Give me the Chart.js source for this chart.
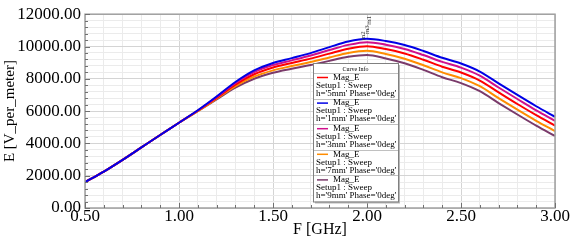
<!DOCTYPE html>
<html><head><meta charset="utf-8">
<script src="https://cdn.jsdelivr.net/npm/chart.js@4.4.1/dist/chart.umd.min.js"></script>
<style>html,body{margin:0;padding:0;background:#fff;}#wrap{width:571px;height:243px;position:relative;}</style>
</head><body><div id="wrap"><canvas id="c" width="571" height="243"></canvas></div>
<script>
const freqGHz = [0.5,0.6,0.7,0.8,0.9,1.0,1.1,1.2,1.3,1.4,1.5,1.6,1.7,1.8,1.9,2.0,2.1,2.2,2.3,2.4,2.5,2.6,2.7,2.8,2.9,3.0];
const h5mm = [1600,2250,2980,3750,4520,5280,6020,6820,7640,8280,8700,8980,9250,9560,9860,10020,9840,9570,9180,8750,8390,7890,7160,6440,5750,5100];
const h1mm = [1600,2250,2980,3750,4520,5280,6050,6900,7800,8520,8980,9280,9590,9960,10310,10480,10340,10090,9720,9300,8950,8450,7720,7000,6300,5650];
const h3mm = [1600,2250,2980,3750,4520,5280,6040,6870,7730,8410,8850,9140,9440,9780,10100,10270,10110,9850,9470,9050,8690,8190,7460,6750,6050,5400];
const h7mm = [1600,2250,2980,3750,4520,5280,6000,6770,7550,8130,8520,8790,9040,9320,9600,9730,9530,9240,8840,8400,8040,7540,6800,6090,5400,4760];
const h9mm = [1600,2250,2980,3750,4520,5280,5990,6720,7450,8000,8370,8620,8850,9110,9360,9480,9260,8960,8550,8100,7730,7230,6500,5790,5100,4460];
const seriesNames = ["h='5mm' Phase='0deg'","h='1mm' Phase='0deg'","h='3mm' Phase='0deg'","h='7mm' Phase='0deg'","h='9mm' Phase='0deg'"];
const seriesColors = ['#ff0000','#0000e6','#d0108c','#ff8c00','#7a3a6a'];
const seriesData = [h5mm,h1mm,h3mm,h7mm,h9mm];
const yTickLabels = ['0.00','2000.00','4000.00','6000.00','8000.00','10000.00','12000.00'];
const xTickLabels = ['0.50','1.00','1.50','2.00','2.50','3.00'];

const SERIF = '"Liberation Serif", "Times New Roman", serif';
const isMajorX = v => Math.abs(v*2 - Math.round(v*2)) < 1e-6;
const isMajorY = v => Math.abs(v/2000 - Math.round(v/2000)) < 1e-6;

const datasets = seriesData.map((d,i)=>({
  label: seriesNames[i],
  data: d.map((v,j)=>({x:freqGHz[j], y:v})),
  borderColor: seriesColors[i],
  backgroundColor: seriesColors[i],
  borderWidth: 2,
  pointRadius: 0,
  cubicInterpolationMode: 'monotone',
  fill: false
}));
datasets.forEach((d,i)=>{ d.order = [2,0,1,3,4][i]; });

const decor = {
  id: 'decor',
  afterDraw(chart){
    const ctx = chart.ctx, a = chart.chartArea;
    const xs = chart.scales.x, ys = chart.scales.y;
    ctx.save();
    ctx.strokeStyle = '#a0a0a0'; ctx.lineWidth = 1.5;
    ctx.strokeRect(a.left, a.top, a.right-a.left, a.bottom-a.top);
    ctx.strokeStyle = '#707070'; ctx.lineWidth = 1;
    xs.ticks.forEach(t=>{
      const px = Math.round(xs.getPixelForValue(t.value))+0.5;
      const L = isMajorX(t.value) ? 5 : 3;
      ctx.beginPath(); ctx.moveTo(px, a.bottom); ctx.lineTo(px, a.bottom-L); ctx.stroke();
    });
    ys.ticks.forEach(t=>{
      const py = Math.round(ys.getPixelForValue(t.value))+0.5;
      const L = isMajorY(t.value) ? 5 : 3;
      ctx.beginPath(); ctx.moveTo(a.left, py); ctx.lineTo(a.left+L, py); ctx.stroke();
    });
    ctx.fillStyle = '#404040'; ctx.font = '7px ' + SERIF;
    const mx = xs.getPixelForValue(2.0);
    [['m1', 10480, 14, 2],['m2', 10020, 6, -4],['m3', 10270, 8, 0]].forEach(m=>{
      ctx.save();
      ctx.translate(mx + m[3], ys.getPixelForValue(m[1]) - m[2]);
      ctx.rotate(-Math.PI/2);
      ctx.textAlign='left'; ctx.textBaseline='middle';
      ctx.fillText(m[0], 0, 0);
      ctx.restore();
    });
    const bx = 313, by = 63, bw = 85, bh = 138.5;
    ctx.fillStyle = '#b8b8b8';
    ctx.fillRect(bx+2, by+2, bw, bh);
    ctx.fillStyle = '#ffffff';
    ctx.fillRect(bx, by, bw, bh);
    ctx.strokeStyle = '#808080'; ctx.lineWidth = 1;
    ctx.strokeRect(bx+0.5, by+0.5, bw, bh);
    ctx.fillStyle = '#000';
    ctx.font = '6px ' + SERIF; ctx.textAlign = 'center'; ctx.textBaseline = 'middle';
    ctx.fillText('Curve Info', bx + bw/2, by + 6);
    const step = 25.6, first = 77.5;
    ctx.strokeStyle = '#c0c0c0';
    for (let i=0;i<5;i++){
      const sy = first + i*step - 4.5;
      ctx.beginPath(); ctx.moveTo(bx+1, Math.round(sy)+0.5); ctx.lineTo(bx+bw, Math.round(sy)+0.5); ctx.stroke();
    }
    chart.data.datasets.forEach((d,i)=>{
      const y0 = first + i*step;
      ctx.strokeStyle = d.borderColor; ctx.lineWidth = 1.5;
      ctx.beginPath(); ctx.moveTo(bx+4, y0); ctx.lineTo(bx+15, y0); ctx.stroke();
      ctx.fillStyle = '#000'; ctx.textAlign = 'left'; ctx.textBaseline = 'middle';
      ctx.font = '9px ' + SERIF;
      ctx.fillText('Mag_E', bx+20, y0);
      ctx.fillText('Setup1 : Sweep', bx+3, y0+8);
      ctx.fillText(d.label, bx+3, y0+16);
    });
    ctx.restore();
  }
};

new Chart(document.getElementById('c'), {
  type: 'line',
  data: { datasets },
  options: {
    responsive: false, animation: false,
    layout: { padding: { top: 8, right: 16, left: 0, bottom: 0 } },
    plugins: { legend: { display: false }, tooltip: { enabled: false } },
    scales: {
      x: {
        type: 'linear', min: 0.5, max: 3.0,
        afterFit: s => { s.height = 35; },
        ticks: {
          stepSize: 0.1, autoSkip: false, maxRotation: 0, padding: -2,
          color: '#000', font: { family: SERIF, size: 17 },
          callback: v => isMajorX(v) ? xTickLabels[Math.round((v-0.5)*2)] : ''
        },
        grid: { drawTicks: false, color: c => isMajorX(c.tick.value) ? '#d4d4d4' : '#ebebeb', lineWidth: 1 },
        border: { display: false },
        title: { display: true, text: 'F [GHz]', color: '#000', font: { family: SERIF, size: 16 }, padding: { top: 0, bottom: 4 } }
      },
      y: {
        type: 'linear', min: 0, max: 12000,
        afterFit: s => { s.width = 85; },
        ticks: {
          stepSize: 400, autoSkip: false, padding: 4,
          color: '#000', font: { family: SERIF, size: 17 },
          callback: v => isMajorY(v) ? yTickLabels[Math.round(v/2000)] : ''
        },
        grid: { drawTicks: false, color: c => isMajorY(c.tick.value) ? '#d4d4d4' : '#ebebeb', lineWidth: 1 },
        border: { display: false },
        title: { display: true, text: 'E [V_per_meter]', color: '#000', font: { family: SERIF, size: 15 }, padding: { top: 1, bottom: 0 } }
      }
    }
  },
  plugins: [decor]
});
</script></body></html>
